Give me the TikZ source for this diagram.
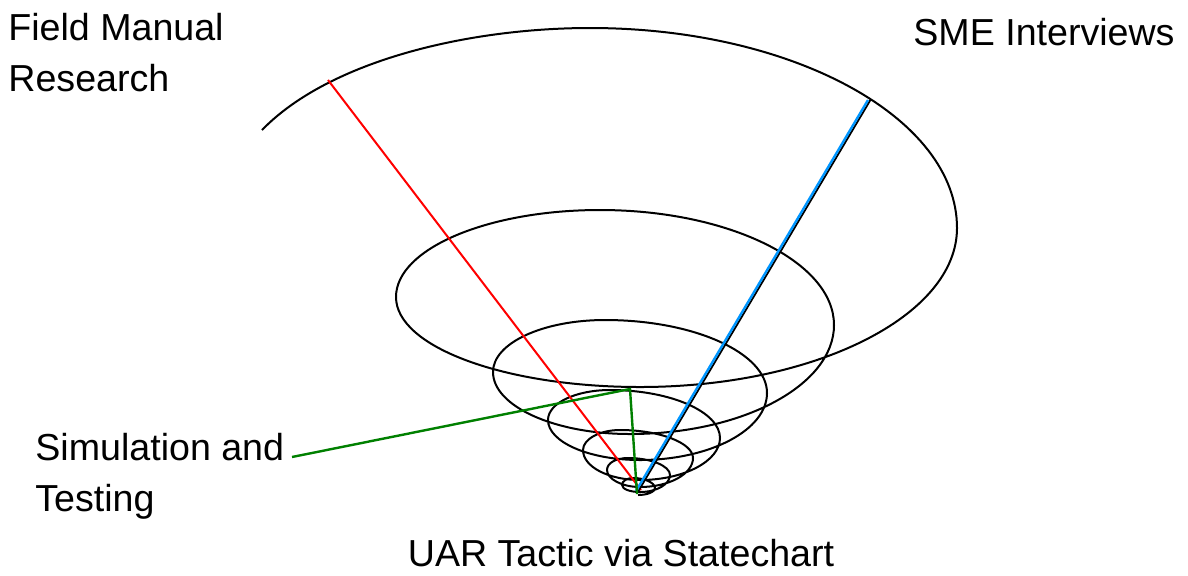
\documentclass[tikz,border=0pt]{standalone}
\usepackage{fontspec}
\setmainfont{Liberation Sans}
\definecolor{redl}{RGB}{255,0,0}
\definecolor{greenl}{RGB}{0,128,0}
\definecolor{bluel}{RGB}{0,150,255}
\begin{document}
\begin{tikzpicture}[x=0.5pt,y=-0.5pt,
  spiral/.style={draw=black,line width=1pt,line join=round},
  redline/.style={draw=redl,line width=1pt},
  greenline/.style={draw=greenl,line width=1.2pt},
  blueline/.style={draw=bluel,line width=1.2pt},
  blackline/.style={draw=black,line width=0.9pt},
  lbl/.style={inner sep=0pt,font=\fontsize{18.8}{25.5}\selectfont,align=left}]
\useasboundingbox (0,0) rectangle (1188,575);
\fill[white] (0,0) rectangle (1188,575);
% key points of the spiral
\coordinate (S0) at (262,130);
\coordinate (T1) at (590,28);
\coordinate (R1) at (957,228);
\coordinate (B1) at (640,387);
\coordinate (L2) at (396,297);
\coordinate (T2) at (600,210);
\coordinate (R2) at (834,325);
\coordinate (B2) at (630,434);
\coordinate (L3) at (493,372);
\coordinate (T3) at (605,320);
\coordinate (R3) at (767,393);
\coordinate (B3) at (640,460);
\coordinate (L4) at (548,420);
\coordinate (T4) at (610,390);
\coordinate (R4) at (720,438);
\coordinate (B4) at (640,480);
\coordinate (L5) at (583,450);
\coordinate (T5) at (620,430);
\coordinate (R5) at (693,458);
\coordinate (B5) at (640,487);
\coordinate (L6) at (607,470);
\coordinate (T6) at (628,458);
\coordinate (R6) at (670,475);
\coordinate (B6) at (640,492);
\coordinate (L7) at (622,485);
\coordinate (T7) at (633,478);
\coordinate (R7) at (655,488);
\coordinate (B7) at (638,495);
\draw[spiral] (S0) .. controls (330,60) and (470,28) .. (T1)
  .. controls (793,28) and (957,118) .. (R1)
  .. controls (957,316) and (815,387) .. (B1)
  .. controls (505,387) and (396,347) .. (L2)
  .. controls (396,249) and (487,210) .. (T2)
  .. controls (729,210) and (834,262) .. (R2)
  .. controls (834,385) and (743,434) .. (B2)
  .. controls (554,434) and (493,406) .. (L3)
  .. controls (493,343) and (543,320) .. (T3)
  .. controls (694,320) and (767,353) .. (R3)
  .. controls (767,430) and (710,460) .. (B3)
  .. controls (589,460) and (548,442) .. (L4)
  .. controls (548,403) and (576,390) .. (T4)
  .. controls (671,390) and (720,412) .. (R4)
  .. controls (720,461) and (684,480) .. (B4)
  .. controls (609,480) and (583,467) .. (L5)
  .. controls (583,439) and (600,430) .. (T5)
  .. controls (660,430) and (693,443) .. (R5)
  .. controls (693,474) and (669,487) .. (B5)
  .. controls (622,487) and (607,479) .. (L6)
  .. controls (607,463) and (616,458) .. (T6)
  .. controls (651,458) and (670,466) .. (R6)
  .. controls (670,484) and (657,492) .. (B6)
  .. controls (630,492) and (622,489) .. (L7)
  .. controls (622,481) and (627,478) .. (T7)
  .. controls (645,478) and (655,483) .. (R7)
  .. controls (655,492) and (647,495) .. (B7);
% lines
\coordinate (r0) at (328,80);
\coordinate (r1) at (641,490);
\draw[redline] (r0) -- (r1);
\coordinate (b0) at (868,100);
\coordinate (b1) at (636,491);
\draw[blackline] ([xshift=1.2pt]b0) -- ([xshift=1.2pt]b1);
\draw[blueline] (b0) -- (b1);
\coordinate (g0) at (292,457);
\coordinate (g1) at (630,389);
\coordinate (g2) at (637,494);
\draw[greenline] (g0) -- (g1) -- (g2);
% labels
\node[lbl,anchor=north west] (fm) at (8,12.5) {Field Manual\\Research};
\node[lbl,anchor=base west] (sme) at (913,45) {SME Interviews};
\node[lbl,anchor=north west] (sim) at (35,433) {Simulation and\\Testing};
\node[lbl,anchor=base] (uar) at (621,566) {UAR Tactic via Statechart};
\end{tikzpicture}
\end{document}
